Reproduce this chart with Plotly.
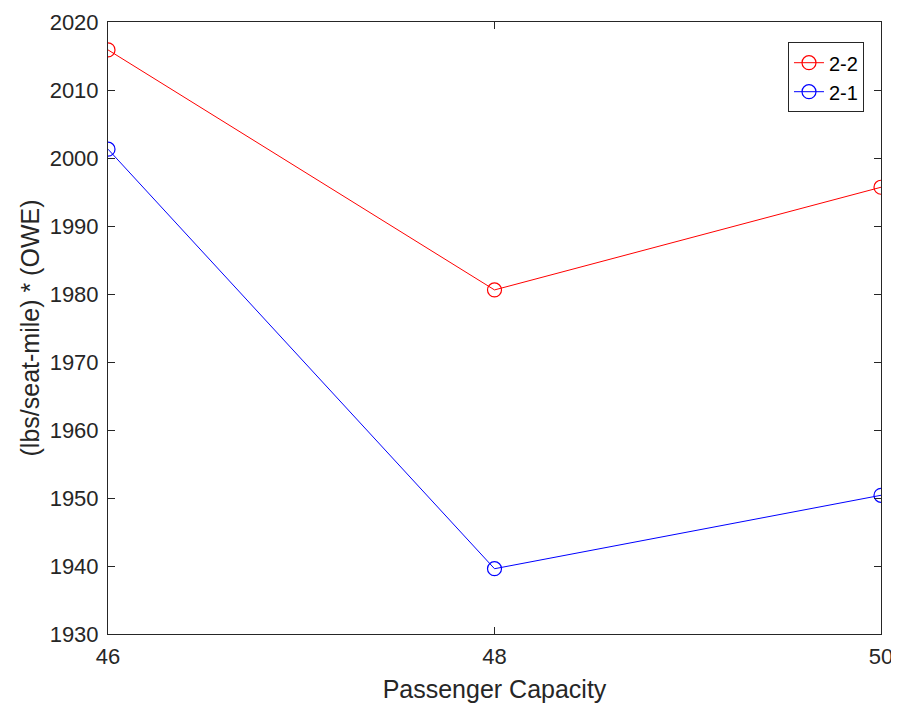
import plotly.graph_objects as go

capacity = [46, 48, 50]
series_22 = [2015.9, 1980.6, 1995.7]
series_21 = [2001.3, 1939.6, 1950.4]
y_ticks = [1930, 1940, 1950, 1960, 1970, 1980, 1990, 2000, 2010, 2020]

FONT = "Liberation Sans, Arial, Helvetica"
TXT = "#262626"

fig = go.Figure()
fig.add_trace(go.Scatter(x=capacity, y=series_22, name="2-2", mode="lines+markers",
                         line=dict(color="#ff0000", width=1),
                         marker=dict(symbol="circle-open", size=14, color="#ff0000", line=dict(width=1.2))))
fig.add_trace(go.Scatter(x=capacity, y=series_21, name="2-1", mode="lines+markers",
                         line=dict(color="#0000ff", width=1),
                         marker=dict(symbol="circle-open", size=14, color="#0000ff", line=dict(width=1.2))))

axis_common = dict(showgrid=False, zeroline=False, showline=True, linecolor=TXT, linewidth=1,
                   mirror="ticks", ticks="inside", ticklen=7, tickcolor=TXT, automargin=False,
                   tickfont=dict(family=FONT, size=22, color=TXT))

fig.update_xaxes(range=[46, 50], tickvals=capacity, ticktext=[str(c) for c in capacity],
                 title=dict(text="Passenger Capacity", font=dict(family=FONT, size=25, color=TXT), standoff=12),
                 ticklabelstandoff=3,
                 **axis_common)
fig.update_yaxes(range=[1930, 2020], tickvals=y_ticks,
                 title=dict(text="(lbs/seat-mile) * (OWE)", font=dict(family=FONT, size=25, color=TXT), standoff=2),
                 ticklabelstandoff=4,
                 **axis_common)

fig.update_layout(
    width=891, height=700,
    margin=dict(l=100, r=18, t=14, b=74),
    plot_bgcolor="white", paper_bgcolor="white",
    showlegend=True,
    legend=dict(x=0.978, y=0.967, xanchor="right", yanchor="top",
                bgcolor="white", bordercolor=TXT, borderwidth=1,
                font=dict(family=FONT, size=20, color="#000000"),
                tracegroupgap=0),
)
fig.write_html("out.html")
